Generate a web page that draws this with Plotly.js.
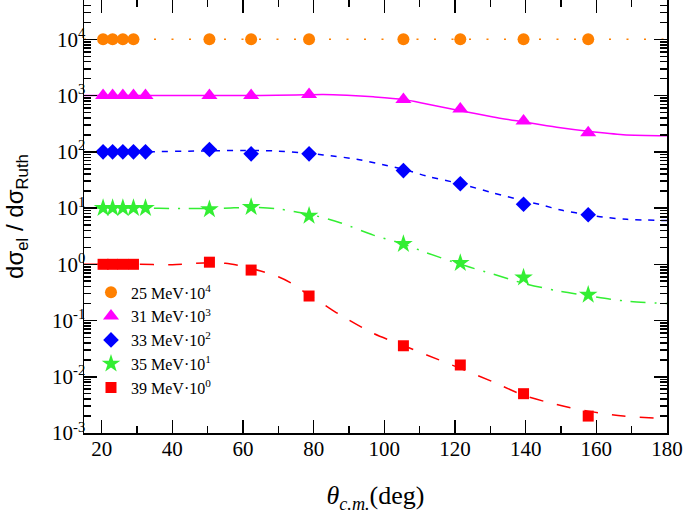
<!DOCTYPE html>
<html>
<head>
<meta charset="utf-8">
<script src="https://cdn.plot.ly/plotly-3.0.1.min.js"></script>
<style>html,body{margin:0;padding:0;background:#fff;}#chart{width:685px;height:514px;}</style>
</head>
<body>
<div id="chart"></div>
<script>
// ---- measured data (angles in deg, ratios already multiplied by 10^n) ----
const angles25 = [20.4, 23.1, 26.0, 29.0, 50.5, 62.3, 78.7, 105.4, 121.5, 139.4, 157.7];
const data25   = [1e4, 1e4, 1e4, 1e4, 1e4, 1e4, 1e4, 1e4, 1e4, 1e4, 1e4];

const angles31 = [20.4, 23.1, 26.0, 29.0, 32.4, 50.5, 62.3, 78.7, 105.4, 121.5, 139.4, 157.7];
const data31   = [1000, 1000, 1000, 1000, 1000, 1000, 1000, 1050, 850, 580, 352, 218];
const err31pct = [25, 25, 25, 25, 25, 10, 10, 30, 30, 10, 10, 10];

const angles33 = [20.4, 23.1, 26.0, 29.0, 32.4, 50.5, 62.3, 78.7, 105.4, 121.5, 139.4, 157.7];
const data33   = [100, 100, 100, 100, 100, 110, 92, 92, 46.4, 27, 11.7, 7.6];

const angles35 = [20.4, 23.1, 26.0, 29.0, 32.4, 50.5, 62.3, 78.7, 105.4, 121.5, 139.4, 157.7];
const data35   = [10, 10, 10, 10, 10, 9.5, 10.4, 7.3, 2.29, 1.05, 0.58, 0.286];

const angles39 = [20.4, 23.1, 26.0, 29.0, 50.5, 62.3, 78.7, 105.4, 121.5, 139.4, 157.7];
const data39   = [1, 1, 1, 1, 1.09, 0.79, 0.273, 0.0356, 0.0162, 0.005, 0.002];

// ---- calculated curves ----
const curve25x = [15, 180];
const curve25y = [1e4, 1e4];

const curve31x = [15, 30, 50, 65, 75, 82.7, 89.4, 96.9, 105.4, 112, 121.5, 130.8, 139.4, 148.8, 157.7, 167.6, 180];
const curve31y = [1000, 1000, 1000, 1005, 1030, 1050, 1015, 950, 850, 710, 540, 418, 340, 273, 232, 202, 194];

const curve33x = [15, 30, 50, 60, 68.6, 78.7, 82.7, 92.2, 99.7, 105.4, 112, 121.5, 130.8, 139.4, 144.2, 150, 157.7, 162, 168.7, 180];
const curve33y = [100, 100, 104, 106, 104, 94, 88, 74, 59, 49, 37, 27, 18.6, 13.5, 11.5, 9.2, 7.6, 6.9, 6.3, 6.0];

const curve35x = [15, 30, 43, 54, 62.3, 69.3, 74.3, 78.7, 87.5, 96.9, 105.4, 112, 121.5, 130.8, 139.4, 148.8, 157.7, 164, 169, 180];
const curve35y = [10, 10, 9.8, 9.9, 10.3, 9.8, 8.7, 7.8, 5.5, 3.3, 2.29, 1.6, 1.0, 0.67, 0.46, 0.34, 0.276, 0.24, 0.22, 0.2];

const curve39x = [15, 30, 40, 50, 55, 60, 65, 70, 74.3, 78.7, 83, 87.5, 96.9, 105.4, 112, 121.5, 130.8, 139.4, 148.8, 157.7, 167.6, 180];
const curve39y = [1.0, 1.0, 0.98, 1.07, 1.04, 0.92, 0.76, 0.6, 0.44, 0.28, 0.19, 0.126, 0.059, 0.036, 0.0244, 0.0141, 0.0081, 0.0047, 0.0032, 0.00245, 0.002, 0.0018];

const legendNames = ['25 MeV·10<sup>4</sup>', '31 MeV·10<sup>3</sup>', '33 MeV·10<sup>2</sup>', '35 MeV·10<sup>1</sup>', '39 MeV·10<sup>0</sup>'];
const yTickVals = [1e-3, 1e-2, 1e-1, 1, 10, 100, 1000, 10000];
const yTickText = ['10<sup>-3</sup>', '10<sup>-2</sup>', '10<sup>-1</sup>', '10<sup>0</sup>', '10<sup>1</sup>', '10<sup>2</sup>', '10<sup>3</sup>', '10<sup>4</sup>'];

// ---- styles ----
const cOrange = '#ff8000', cMag = '#ff00ff', cBlue = '#0000ff', cGreen = '#33ee33', cRed = '#ff0000';

const minorY = [];
for (let e = -3; e <= 4; e++) for (let m = 2; m <= 9; m++) minorY.push(m * Math.pow(10, e));

function curve(x, y, color, dash) {
  return {x: x, y: y, type: 'scatter', mode: 'lines', showlegend: false, hoverinfo: 'skip',
          line: {color: color, width: 1.5, dash: dash, shape: 'spline', smoothing: 0.8}};
}
function pts(x, y, name, color, symbol, size, extra) {
  const t = {x: x, y: y, type: 'scatter', mode: 'markers', name: name,
             marker: {color: color, symbol: symbol, size: size, line: {width: 0}}};
  return Object.assign(t, extra || {});
}

const traces = [
  curve(curve25x, curve25y, cOrange, '2px,15.5px'),
  curve(curve31x, curve31y, cMag, 'solid'),
  curve(curve33x, curve33y, cBlue, '6px,7px'),
  curve(curve35x, curve35y, cGreen, '15px,9px,2px,9px'),
  curve(curve39x, curve39y, cRed, '14px,14px'),
  pts(angles25, data25, legendNames[0], cOrange, 'circle', 12),
  pts(angles31, data31, legendNames[1], cMag, 'triangle-up', 14,
      {error_y: {type: 'percent', array: err31pct, symmetric: true, visible: true, width: 0, thickness: 1.3, color: cMag}}),
  pts(angles33, data33, legendNames[2], cBlue, 'diamond', 12),
  pts(angles35, data35, legendNames[3], cGreen, 'star', 14),
  pts(angles39, data39, legendNames[4], cRed, 'square', 11)
];

const serif = 'Liberation Serif, Times New Roman, serif';
const layout = {
  width: 685, height: 514,
  margin: {l: 84, r: 18, t: 0, b: 81, pad: 0},
  paper_bgcolor: '#fff', plot_bgcolor: '#fff',
  font: {family: serif, color: '#000', size: 20},
  showlegend: true,
  legend: {x: 0.012, y: 0.364, xanchor: 'left', yanchor: 'top', bgcolor: 'rgba(0,0,0,0)',
           font: {family: serif, size: 16, color: '#000'}, itemsizing: 'trace', tracegroupgap: 0},
  xaxis: {
    range: [15, 180], tickmode: 'linear', tick0: 20, dtick: 20,
    ticks: 'inside', ticklen: 13, tickwidth: 1.5, tickcolor: '#000',
    showline: true, linecolor: '#000', linewidth: 1.5, mirror: 'allticks',
    showgrid: false, zeroline: false,
    minor: {ticks: 'inside', ticklen: 7, tickwidth: 1.5, tickcolor: '#000', tick0: 30, dtick: 20, showgrid: false},
    tickfont: {family: serif, size: 21, color: '#000'}, ticklabelstandoff: -4,
    title: {text: '<i>θ</i><sub><i>c.m.</i></sub>(deg)', font: {family: serif, size: 26, color: '#000'}, standoff: 26}
  },
  yaxis: {
    type: 'log', range: [-3, 4.7], tickmode: 'array', tickvals: yTickVals, ticktext: yTickText,
    ticks: 'inside', ticklen: 13, tickwidth: 1.5, tickcolor: '#000',
    showline: true, linecolor: '#000', linewidth: 1.5, mirror: 'allticks',
    showgrid: false, zeroline: false,
    minor: {tickmode: 'array', tickvals: minorY, ticks: 'inside', ticklen: 7, tickwidth: 1.5, tickcolor: '#000', showgrid: false},
    tickfont: {family: serif, size: 21, color: '#000'}, ticklabelstandoff: -7,
    title: {text: 'dσ<sub>el</sub> / dσ<sub>Ruth</sub>', font: {family: 'Liberation Sans, Arial, sans-serif', size: 24, color: '#000'}, standoff: 21}
  }
};

Plotly.newPlot('chart', traces, layout, {staticPlot: true, displayModeBar: false});
</script>
</body>
</html>
